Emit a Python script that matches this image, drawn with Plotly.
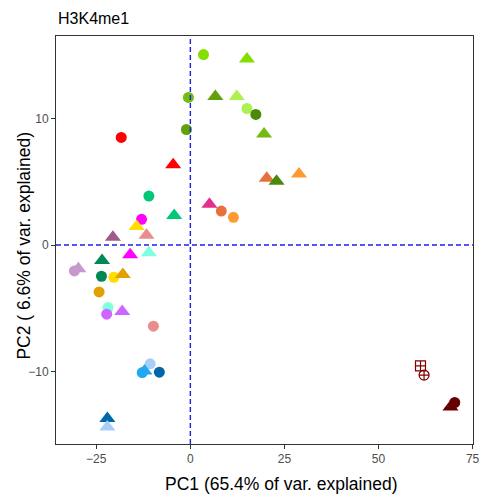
import plotly.graph_objects as go

# PCA scores (PC1, PC2) for each sample
pc1 = [3.49, 15.04, -0.52, 6.64, 12.34, 15.04, 17.40, -1.05, -18.37, 19.58,
       -4.57, 20.29, 22.91, 28.87, -11.02, 5.07, 8.22, 11.44, -4.30, -12.97,
       -14.28, -20.58, -11.65, -16.01, -11.02, -23.46, -29.76, -30.81, -23.62, -20.31,
       -17.95, -24.25, -21.89, -22.23, -18.11, -9.82, -10.68, -12.18, -12.78, -8.24,
       -22.05, -22.05, 61.15, 62.10, 70.24, 69.11]
pc2 = [15.05, 14.70, 11.66, 11.74, 11.74, 10.79, 10.32, 9.13, 8.50, 8.78,
       6.35, 5.27, 5.04, 5.62, 3.87, 3.22, 2.68, 2.19, 2.33, 2.03,
       1.46, 0.62, 0.77, -0.77, -0.62, -1.22, -1.88, -2.05, -2.47, -2.55,
       -2.33, -3.71, -4.95, -5.47, -5.25, -6.42, -9.39, -9.96, -10.08, -10.05,
       -13.72, -14.38, -9.55, -10.28, -12.45, -12.80]
group = ["G01", "G01", "G02", "G03", "G04", "G04", "G05", "G03", "G06", "G02",
         "G06", "G07", "G05", "G08", "G09", "G10", "G07", "G08", "G09", "G11",
         "G12", "G13", "G14", "G11", "G15", "G16", "G17", "G17", "G16", "G12",
         "G18", "G18", "G15", "G19", "G19", "G14", "G20", "G21", "G21", "G22",
         "G22", "G20", "REF1", "REF1", "REF2", "REF2"]
kind = ["c", "t", "c", "t", "t", "c", "c", "c", "c", "t",
        "t", "t", "t", "t", "c", "t", "c", "c", "t", "c",
        "t", "t", "t", "t", "t", "t", "t", "c", "c", "c",
        "t", "c", "c", "c", "t", "c", "c", "t", "c", "c",
        "t", "t", "sq", "oc", "c", "t"]

palette = {
    "G01": "#84DE00", "G02": "#74BC12", "G03": "#62A00C", "G04": "#ADF052",
    "G05": "#4C880A", "G06": "#FF0000", "G07": "#E8703F", "G08": "#FF9A33",
    "G09": "#00C878", "G10": "#E2318A", "G11": "#FF00FF", "G12": "#FFDD00",
    "G13": "#9E5A8A", "G14": "#E88C8C", "G15": "#7FFFE0", "G16": "#008856",
    "G17": "#C898CC", "G18": "#E0A000", "G19": "#CC66FF", "G20": "#A6CEF8",
    "G21": "#22A8F0", "G22": "#0068A8", "REF1": "#800000", "REF2": "#660000",
}
symbol_map = {"c": "circle", "t": "triangle-up",
              "sq": "square-cross-open", "oc": "circle-cross-open"}
size_map = {"c": 11, "t": 14, "sq": 10, "oc": 10}
line_map = {"c": 0, "t": 0, "sq": 1.2, "oc": 1.2}

fig = go.Figure(go.Scatter(
    x=pc1, y=pc2, mode="markers",
    marker=dict(
        color=[palette[g] for g in group],
        symbol=[symbol_map[k] for k in kind],
        size=[size_map[k] for k in kind],
        line=dict(width=[line_map[k] for k in kind],
                  color=[palette[g] for g in group]),
        opacity=1,
    ),
    showlegend=False, hoverinfo="x+y",
))

# reference lines through the origin, drawn above the points
dash_style = dict(color="#1F1FE6", width=1.4, dash="5px,3px")
fig.add_shape(type="line", xref="x", yref="paper", x0=0, x1=0, y0=0, y1=1,
              line=dash_style, layer="above")
fig.add_shape(type="line", xref="paper", yref="y", x0=0, x1=1, y0=0, y1=0,
              line=dash_style, layer="above")

axis_common = dict(
    showgrid=False, zeroline=False, showline=True, mirror=True,
    linecolor="#333333", linewidth=1,
    ticks="outside", ticklen=4, tickcolor="#333333", tickwidth=1,
    tickfont=dict(family="Liberation Sans, Arial, sans-serif", size=12, color="#4D4D4D"),
)
fig.update_xaxes(range=[-35.7, 75.1], tickvals=[-25, 0, 25, 50, 75], **axis_common)
fig.update_yaxes(range=[-15.73, 16.52], tickvals=[-10, 0, 10], **axis_common)

title_font = dict(family="Liberation Sans, Arial, sans-serif", size=16, color="#000000")
label_font = dict(family="Liberation Sans, Arial, sans-serif", size=17.5, color="#000000")
fig.add_annotation(text="H3K4me1", xref="paper", yref="paper", x=0.0, y=1.043,
                   xanchor="left", yanchor="middle", showarrow=False, font=title_font)
fig.add_annotation(text="PC1 (65.4% of var. explained)", xref="paper", yref="paper",
                   x=0.5406, y=-0.097, xanchor="center", yanchor="middle",
                   showarrow=False, font=label_font)
fig.add_annotation(text="PC2 ( 6.6% of var. explained)", xref="paper", yref="paper",
                   x=-0.077, y=0.486, xanchor="center", yanchor="middle",
                   textangle=-90, showarrow=False, font=label_font)

fig.update_layout(
    width=492, height=498,
    margin=dict(l=55.7, r=14, t=35.7, b=53.7),
    paper_bgcolor="white", plot_bgcolor="white",
)

fig.write_html("out.html")
